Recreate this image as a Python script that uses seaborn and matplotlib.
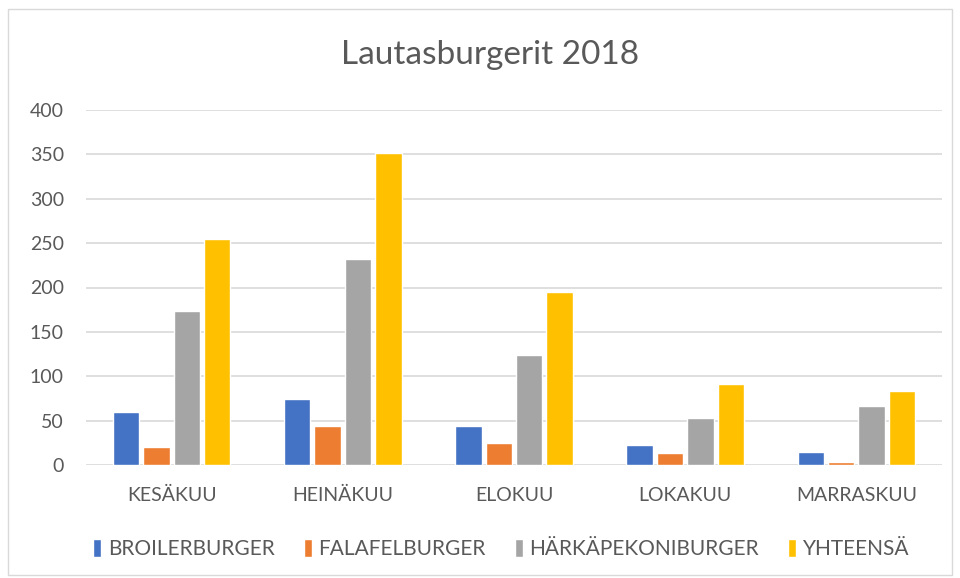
import matplotlib
matplotlib.use("Agg")
import matplotlib.pyplot as plt
import seaborn as sns
import pandas as pd
from matplotlib.patches import Rectangle

# datos
kuukaudet = ["KESÄKUU", "HEINÄKUU", "ELOKUU", "LOKAKUU", "MARRASKUU"]
sarjat = ["BROILERBURGER", "FALAFELBURGER", "HÄRKÄPEKONIBURGER", "YHTEENSÄ"]
broiler = [60, 74, 44, 22, 15]
falafel = [20, 44, 25, 14, 3]
harkapekoni = [174, 232, 124, 53, 66]
yhteensa = [255, 352, 195, 91, 83]

colores = ["#4472C4", "#ED7D31", "#A5A5A5", "#FFC000"]
gris_texto = "#595959"

df = pd.DataFrame({
    "kuukausi": kuukaudet * 4,
    "sarja": [s for s in sarjat for _ in kuukaudet],
    "arvo": broiler + falafel + harkapekoni + yhteensa,
})

sns.set_theme(style="white")
plt.rcParams["font.family"] = ["Lato", "DejaVu Sans"]

fig = plt.figure(figsize=(9.6, 5.78), dpi=100)
ax = fig.add_axes([86 / 960, 1 - 465 / 578, 856 / 960, 355 / 578])

sns.barplot(data=df, x="kuukausi", y="arvo", hue="sarja", palette=colores,
            saturation=1, width=0.71, gap=0.13, ax=ax, legend=True)

ax.set_ylim(0, 400)
ax.set_yticks(range(0, 401, 50))
ax.yaxis.grid(True, color="#D9D9D9", linewidth=1.2)
ax.set_axisbelow(True)
for s in ax.spines.values():
    s.set_visible(False)
ax.set_xlabel("")
ax.set_ylabel("")
ax.tick_params(axis="y", labelsize=14, labelcolor=gris_texto, length=0, pad=16)
ax.tick_params(axis="x", labelsize=14, labelcolor=gris_texto, length=0, pad=16)

fig.text(490 / 960, 1 - 55 / 578, "Lautasburgerit 2018", ha="center", va="center",
         fontsize=24, color=gris_texto)

ax.legend(loc="center", bbox_to_anchor=(0.485, -0.237), ncol=4, frameon=False,
          fontsize=15, labelcolor=gris_texto, handlelength=0.4, handleheight=0.9,
          handletextpad=0.3, columnspacing=1.4)

# marco exterior del gráfico
fig.patches.append(Rectangle((8 / 960, 3 / 578), 944 / 960, 566 / 578,
                             transform=fig.transFigure, fill=False,
                             edgecolor="#D9D9D9", linewidth=1))

fig.savefig("out.png", dpi=100)
plt.close()
